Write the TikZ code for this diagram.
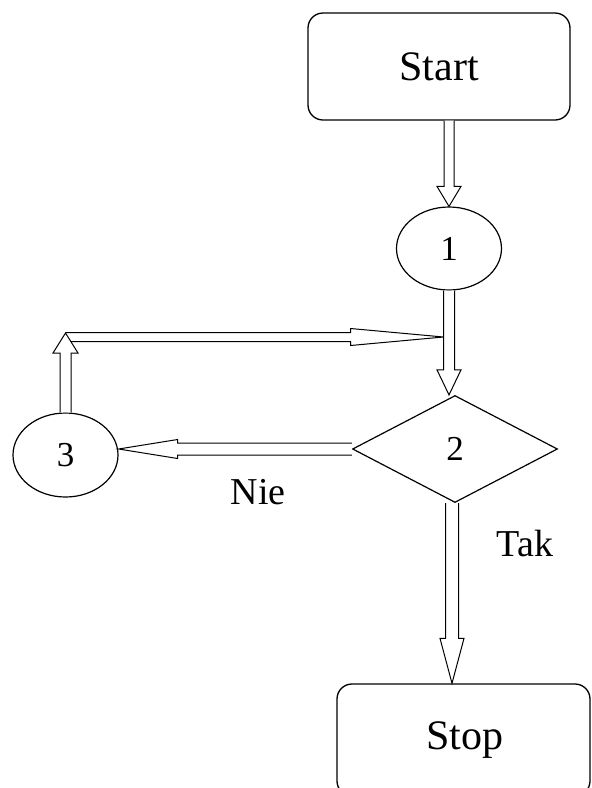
\documentclass[tikz,border=0pt]{standalone}
\usepackage{fontspec}
\setmainfont{Liberation Serif}
\usetikzlibrary{shapes.geometric,calc}

% from, to, shaft half width, head half width, head length
\newcommand\blockarrow[5]{%
  \coordinate (hb) at ($(#2)!#5!(#1)$);
  \filldraw[arw] ($(#1)!#3!90:(#2)$) -- ($(hb)!#3!90:(#2)$) -- ($(hb)!#4!90:(#2)$)
    -- (#2) -- ($(hb)!#4!-90:(#2)$) -- ($(hb)!#3!-90:(#2)$) -- ($(#1)!#3!-90:(#2)$);
}

\tikzset{
  box/.style={draw, line width=1.3pt, rounded corners=15pt, inner sep=0pt,
    font=\fontsize{42}{42}\selectfont},
  oval/.style={draw, ellipse, line width=1.2pt, inner sep=0pt,
    minimum width=105pt, font=\fontsize{35}{35}\selectfont},
  decision/.style={draw, diamond, line width=1.2pt, inner sep=0pt,
    minimum width=205pt, minimum height=107pt, font=\fontsize{35}{35}\selectfont},
  lbl/.style={font=\fontsize{38}{38}\selectfont},
  arw/.style={fill=white, line width=1pt}
}

\begin{document}
\begin{tikzpicture}[x=1pt, y=-1pt]
\useasboundingbox (0,0) rectangle (592,788);

\node[box, minimum width=262pt, minimum height=107pt] (start) at (439,66.5) {Start};
\node[oval, minimum height=83pt] (n1) at (449,248.5) {1};
\node[decision] (n2) at (455,449) {2};
\node[oval, minimum height=84pt] (n3) at (65.5,455) {3};
\node[box, minimum width=253pt, minimum height=112pt] (stop) at (463.5,740) {};
\node[font=\fontsize{42}{42}\selectfont] at (465,740) {Stop};

\node[lbl] (nie) at (258,492) {Nie};
\node[lbl] (tak) at (525,543) {Tak};

\coordinate (a1) at (start.south -| n1.north);
\coordinate (a2) at (n1.south |- n2.north);
\coordinate (a3) at (n3.east |- n2.west);
\coordinate (b) at ($(n2.south)+(-3,0)$);
\coordinate (a4) at (b |- stop.north);
\coordinate (c) at (n3.north |- 0,337);
\coordinate (ctop) at ($(c)+(0,-4)$);
\coordinate (j) at ($(n1.south |- c)+(-5.5,0)$);

\blockarrow{a1}{n1.north}{5pt}{12pt}{20pt}
\blockarrow{c}{j}{4.5pt}{8.5pt}{93pt}
\blockarrow{n3.north}{ctop}{5.5pt}{12.5pt}{20pt}
\blockarrow{n1.south}{a2}{5.5pt}{12pt}{25pt}
\blockarrow{n2.west}{a3}{6pt}{9.5pt}{59pt}
\blockarrow{b}{a4}{6.5pt}{12pt}{45pt}

\end{tikzpicture}
\end{document}
